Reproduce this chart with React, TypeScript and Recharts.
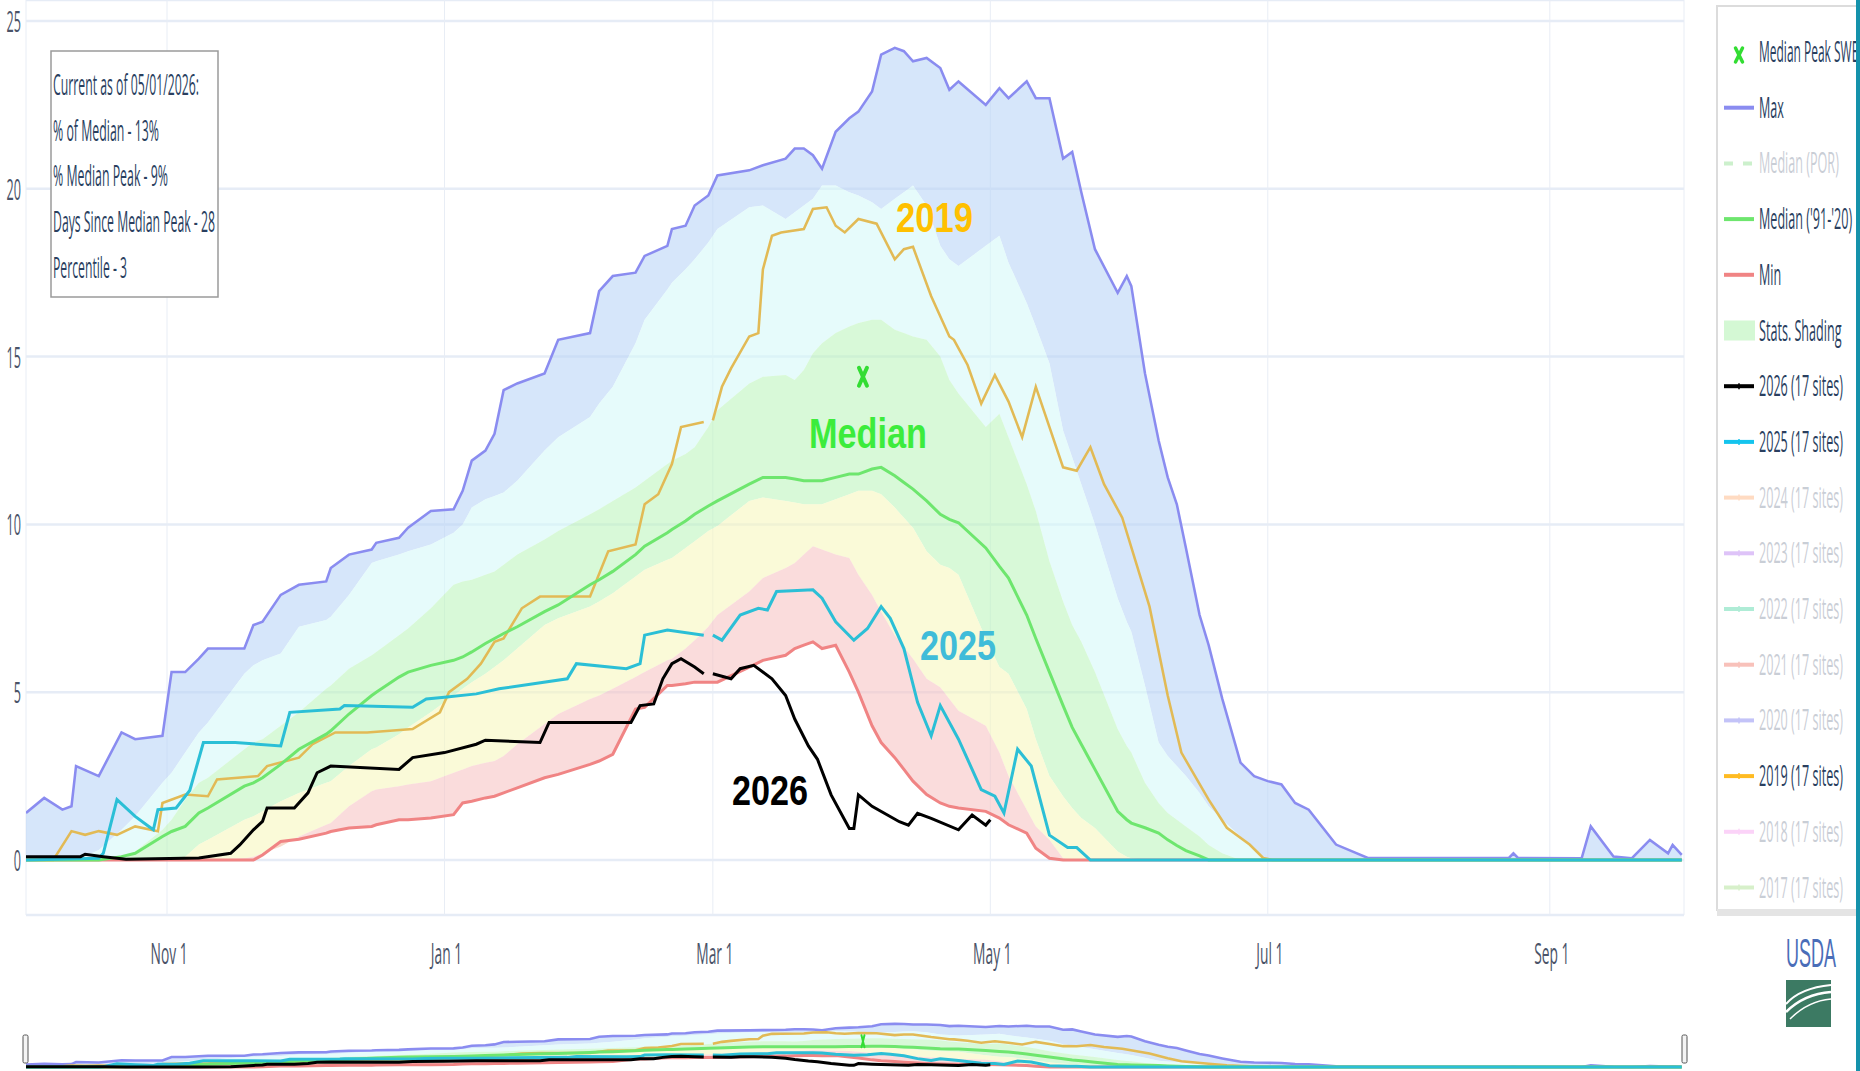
import React from "react";
import { ComposedChart, Area, Line, Scatter, XAxis, YAxis, CartesianGrid } from "recharts";

// day of water year (0 = Oct 1)
const DAYS = [
  0, 4, 8, 10, 11, 16, 21, 24, 30, 32, 35, 38, 40, 48, 50, 52, 56, 60, 66, 67,
  71, 76, 77, 82, 84, 89, 94, 96, 98, 101, 103, 105, 108, 114, 117, 124, 126, 129, 134, 136,
  141, 142, 145, 147, 150, 152, 159, 162, 167, 169, 171, 173, 175, 178, 181, 183, 186, 188, 191, 193,
  195, 198, 201, 203, 205, 211, 214, 216, 220, 222, 225, 228, 230, 232, 235, 240, 242, 243, 246, 249,
  251, 253, 255, 258, 260, 263, 267, 270, 273, 276, 279, 282, 288, 295, 326, 327, 328, 342, 344, 349,
  353, 357, 361, 362, 364,
];
const MAX = [
  1.4, 1.85, 1.5, 1.6, 2.8, 2.5, 3.8, 3.6, 3.7, 5.6, 5.6, 6.0, 6.3, 6.3, 7.0, 7.1, 7.9, 8.2, 8.3, 8.7,
  9.1, 9.25, 9.45, 9.6, 9.9, 10.4, 10.45, 11.0, 11.9, 12.2, 12.7, 14.0, 14.2, 14.5, 15.5, 15.7, 16.95, 17.4, 17.5, 18.0,
  18.3, 18.8, 18.9, 19.5, 19.8, 20.4, 20.55, 20.7, 20.9, 21.2, 21.2, 21.0, 20.6, 21.7, 22.1, 22.3, 22.9, 24.0, 24.2, 24.1,
  23.8, 23.9, 23.6, 22.95, 23.2, 22.5, 23.0, 22.7, 23.2, 22.7, 22.7, 20.9, 21.1, 19.9, 18.2, 16.9, 17.4, 17.1, 14.5, 12.5,
  11.4, 10.6, 9.3, 7.3, 6.4, 4.8, 2.9, 2.5, 2.35, 2.25, 1.7, 1.5, 0.46, 0.06, 0.06, 0.2, 0.06, 0.05, 1.0, 0.1,
  0.05, 0.6, 0.2, 0.45, 0.15,
];
const P90 = [
  0, 0, 0, 0, 0, 0.3, 0.9, 1.3, 2.3, 2.6, 3.2, 3.8, 4.1, 5.55, 5.8, 5.95, 6.15, 6.95, 7.15, 7.25,
  7.9, 8.85, 8.9, 9.1, 9.2, 9.4, 9.75, 10.0, 10.5, 10.75, 10.85, 10.95, 11.3, 12.2, 12.6, 13.2, 13.6, 14.1, 15.4, 16.1,
  17.0, 17.2, 17.6, 17.9, 18.4, 18.8, 19.45, 19.5, 19.1, 19.3, 19.5, 19.7, 20.1, 20.1, 19.9, 19.8, 19.6, 19.4, 19.7, 19.9,
  20.1, 19.5, 18.3, 17.9, 17.7, 18.3, 18.6, 17.8, 16.6, 15.9, 14.8, 12.8, 12.0, 11.2, 10.0, 7.8, 7.1, 6.8, 5.2, 3.5,
  3.1, 2.8, 2.5, 2.0, 1.6, 1.2, 0.7, 0.35, 0, 0, 0, 0, 0, 0, 0, 0, 0, 0, 0, 0,
  0, 0, 0, 0, 0,
];
const P70 = [
  0, 0, 0, 0, 0, 0, 0, 0.25, 0.9, 1.2, 1.8, 2.3, 2.45, 3.3, 3.5, 3.6, 4.0, 4.4, 5.1, 5.2,
  5.7, 6.1, 6.2, 6.7, 6.9, 7.5, 8.2, 8.3, 8.35, 8.5, 8.6, 8.8, 9.1, 9.55, 9.8, 10.3, 10.45, 10.7, 11.1, 11.3,
  11.8, 11.9, 12.1, 12.3, 12.9, 13.4, 14.2, 14.4, 14.45, 14.3, 14.6, 15.1, 15.4, 15.7, 15.9, 16.0, 16.1, 16.1, 15.8, 15.7,
  15.6, 15.5, 15.0, 14.3, 13.9, 12.9, 13.3, 12.6, 11.2, 10.4, 8.9, 7.7, 7.0, 6.5, 5.6, 3.9, 3.4, 3.2, 2.3, 1.7,
  1.4, 1.2, 1.0, 0.7, 0.45, 0.2, 0, 0, 0, 0, 0, 0, 0, 0, 0, 0, 0, 0, 0, 0,
  0, 0, 0, 0, 0,
];
const MEDIAN = [
  0, 0, 0, 0, 0, 0, 0.1, 0.2, 0.7, 0.85, 1.0, 1.4, 1.55, 2.2, 2.3, 2.45, 2.85, 3.3, 3.75, 3.85,
  4.35, 4.9, 5.0, 5.45, 5.6, 5.8, 5.95, 6.05, 6.2, 6.45, 6.6, 6.75, 6.95, 7.4, 7.6, 8.2, 8.35, 8.6, 9.1, 9.35,
  9.75, 9.85, 10.1, 10.3, 10.55, 10.7, 11.2, 11.4, 11.4, 11.35, 11.3, 11.3, 11.3, 11.4, 11.5, 11.5, 11.65, 11.7, 11.45, 11.25,
  11.05, 10.7, 10.3, 10.15, 10.05, 9.3, 8.75, 8.4, 7.3, 6.6, 5.6, 4.6, 3.95, 3.45, 2.7, 1.45, 1.2, 1.1, 0.96, 0.8,
  0.6, 0.43, 0.28, 0.12, 0, 0, 0, 0, 0, 0, 0, 0, 0, 0, 0, 0, 0, 0, 0, 0,
  0, 0, 0, 0, 0,
];
const P30 = [
  0, 0, 0, 0, 0, 0, 0, 0, 0, 0, 0.1, 0.46, 0.6, 1.2, 1.3, 1.45, 1.75, 2.0, 2.3, 2.35,
  2.8, 3.3, 3.35, 3.75, 3.95, 4.4, 4.9, 5.1, 5.3, 5.55, 5.75, 5.95, 6.3, 7.0, 7.2, 7.55, 7.7, 7.95, 8.45, 8.65,
  8.95, 9.0, 9.3, 9.5, 9.8, 9.95, 10.7, 10.8, 10.7, 10.65, 10.6, 10.6, 10.6, 10.75, 10.9, 11.0, 11.0, 10.9, 10.5, 10.2,
  9.9, 9.2, 8.8, 8.7, 8.5, 6.6, 5.75, 5.55, 4.5, 3.6, 2.5, 1.9, 1.55, 1.25, 0.95, 0.25, 0.1, 0.05, 0, 0,
  0, 0, 0, 0, 0, 0, 0, 0, 0, 0, 0, 0, 0, 0, 0, 0, 0, 0, 0, 0,
  0, 0, 0, 0, 0,
];
const P10 = [
  0, 0, 0, 0, 0, 0, 0, 0, 0, 0, 0, 0, 0, 0.05, 0.1, 0.2, 0.4, 0.7, 1.05, 1.1,
  1.6, 2.05, 2.1, 2.2, 2.25, 2.35, 2.6, 2.7, 2.8, 2.9, 2.95, 3.1, 3.45, 4.05, 4.35, 4.8, 4.9, 5.1, 5.45, 5.6,
  5.95, 6.0, 6.3, 6.55, 6.95, 7.3, 8.0, 8.4, 8.7, 8.85, 9.1, 9.35, 9.25, 9.1, 9.0, 8.5, 7.9, 7.4, 6.7, 6.35,
  6.0, 5.4, 5.15, 4.8, 4.45, 4.0, 3.2, 2.5, 1.5, 1.0, 0.6, 0.05, 0, 0, 0, 0, 0, 0, 0, 0,
  0, 0, 0, 0, 0, 0, 0, 0, 0, 0, 0, 0, 0, 0, 0, 0, 0, 0, 0, 0,
  0, 0, 0, 0, 0,
];
const MIN = [
  0, 0, 0, 0, 0, 0, 0, 0, 0, 0, 0, 0, 0, 0, 0, 0.15, 0.55, 0.62, 0.8, 0.85,
  0.95, 1.0, 1.05, 1.2, 1.2, 1.25, 1.35, 1.7, 1.75, 1.85, 1.9, 2.0, 2.15, 2.45, 2.55, 2.85, 2.95, 3.15, 4.5, 4.55,
  5.2, 5.2, 5.25, 5.3, 5.3, 5.3, 5.75, 5.95, 6.1, 6.3, 6.4, 6.5, 6.3, 6.4, 5.6, 5.0, 4.0, 3.5, 3.05, 2.7,
  2.35, 1.95, 1.7, 1.6, 1.55, 1.45, 1.25, 1.05, 0.8, 0.35, 0.05, 0, 0, 0, 0, 0, 0, 0, 0, 0,
  0, 0, 0, 0, 0, 0, 0, 0, 0, 0, 0, 0, 0, 0, 0, 0, 0, 0, 0, 0,
  0, 0, 0, 0, 0,
];

const DAYS_2026 = [
  0, 12, 13, 17, 22, 38, 45, 47, 50, 52, 53, 59, 62, 64, 67, 82, 85, 92, 99, 101,
  113, 115, 133, 135, 138, 140, 142, 144, 147, 149, 150, 151, 155, 157, 160, 164, 167, 169, 172, 174,
  177, 181, 182, 183, 186, 192, 194, 196, 199, 205, 208, 211, 212,
];
const SWE_2026 = [
  0.1, 0.1, 0.17, 0.1, 0.02, 0.06, 0.2, 0.45, 0.9, 1.15, 1.55, 1.55, 2.0, 2.6, 2.8, 2.7, 3.05, 3.2, 3.45, 3.57,
  3.5, 4.1, 4.1, 4.6, 4.65, 5.4, 5.85, 6.0, 5.75, 5.55, null, 5.55, 5.4, 5.7, 5.8, 5.4, 4.9, 4.2, 3.4, 3.0,
  1.94, 0.94, 0.94, 1.94, 1.6, 1.14, 1.04, 1.39, 1.24, 0.9, 1.34, 1.04, 1.2,
];
const DAYS_2025 = [
  0, 16, 17, 20, 24, 27, 28, 29, 33, 36, 39, 46, 56, 58, 69, 70, 85, 88, 92, 99,
  104, 119, 121, 132, 135, 136, 141, 149, 150, 151, 153, 157, 161, 163, 165, 173, 175, 178, 182, 185,
  188, 190, 193, 196, 199, 201, 205, 210, 213, 215, 218, 221, 225, 229, 231, 234, 364,
];
const SWE_2025 = [
  0, 0.05, 0.2, 1.8, 1.3, 1.0, 0.9, 1.5, 1.55, 2.07, 3.5, 3.5, 3.4, 4.4, 4.5, 4.6, 4.55, 4.8, 4.85, 4.95,
  5.1, 5.4, 5.85, 5.7, 5.85, 6.7, 6.85, 6.7, null, 6.7, 6.55, 7.3, 7.5, 7.45, 8.0, 8.05, 7.8, 7.1, 6.55, 6.9,
  7.55, 7.2, 6.3, 4.7, 3.7, 4.6, 3.6, 2.1, 1.9, 1.4, 3.3, 2.8, 0.74, 0.37, 0.37, 0, 0,
];
const DAYS_2019 = [
  0, 6, 10, 13, 16, 20, 24, 29, 30, 35, 40, 42, 51, 53, 60, 63, 68, 75, 85, 91,
  93, 97, 100, 103, 105, 109, 113, 124, 128, 134, 136, 139, 142, 144, 149, 150, 151, 153, 155, 159,
  161, 162, 164, 166, 171, 173, 176, 178, 180, 183, 187, 191, 193, 195, 199, 203, 204, 207, 210, 213,
  216, 219, 222, 225, 228, 231, 234, 237, 241, 247, 251, 254, 260, 264, 269, 272, 274, 364,
];
const SWE_2019 = [
  0, 0, 0.86, 0.75, 0.86, 0.75, 1.0, 0.86, 1.7, 1.95, 1.9, 2.4, 2.5, 2.8, 3.05, 3.45, 3.8, 3.8, 3.9, 4.4,
  5.0, 5.4, 5.85, 6.5, 6.6, 7.5, 7.85, 7.85, 9.2, 9.4, 10.6, 10.9, 11.8, 12.9, 13.05, null, 13.1, 14.1, 14.65, 15.6,
  15.7, 17.6, 18.6, 18.7, 18.8, 19.4, 19.45, 18.9, 18.7, 19.1, 18.96, 17.9, 18.2, 18.27, 16.8, 15.6, 15.5, 14.75, 13.6, 14.45,
  13.66, 12.6, 14.1, 12.9, 11.7, 11.6, 12.3, 11.2, 10.2, 7.55, 4.9, 3.2, 1.8, 0.96, 0.46, 0.06, 0, 0,
];
const PEAK_DAY = [184];
const PEAK_SWE = [14.4];

const X_TICKS = [31, 92, 151, 212, 273, 335];
const X_LABELS = ["Nov 1", "Jan 1", "Mar 1", "May 1", "Jul 1", "Sep 1"];
const Y_TICKS = [0, 5, 10, 15, 20, 25];

const INFO_LINES = [
  "Current as of 05/01/2026:",
  "% of Median - 13%",
  "% Median Peak - 9%",
  "Days Since Median Peak - 28",
  "Percentile - 3",
];
const INFO_WIDTHS = [146, 106, 115, 162, 74];

const LEGEND = [
  { label: "Median Peak SWE", kind: "x", color: "#33dd33", on: true },
  { label: "Max", kind: "line", color: "#8a8cf0", on: true },
  { label: "Median (POR)", kind: "dash", color: "#8fe08f", on: false },
  { label: "Median ('91-'20)", kind: "line", color: "#6ee66e", on: true },
  { label: "Min", kind: "line", color: "#f08484", on: true },
  { label: "Stats. Shading", kind: "box", color: "#d4f8d4", on: true },
  { label: "2026 (17 sites)", kind: "year", color: "#000000", on: true },
  { label: "2025 (17 sites)", kind: "year", color: "#14c4ee", on: true },
  { label: "2024 (17 sites)", kind: "year", color: "#ffb07a", on: false },
  { label: "2023 (17 sites)", kind: "year", color: "#b77cf0", on: false },
  { label: "2022 (17 sites)", kind: "year", color: "#4fd6a6", on: false },
  { label: "2021 (17 sites)", kind: "year", color: "#f07868", on: false },
  { label: "2020 (17 sites)", kind: "year", color: "#7c7cf0", on: false },
  { label: "2019 (17 sites)", kind: "year", color: "#ffbb22", on: true },
  { label: "2018 (17 sites)", kind: "year", color: "#f8a0f0", on: false },
  { label: "2017 (17 sites)", kind: "year", color: "#a8e08c", on: false },
];

const statsRows = DAYS.map((day, i) => ({
  day,
  max: MAX[i],
  min: MIN[i],
  median: MEDIAN[i],
  blue: [P90[i], MAX[i]],
  cyan: [P70[i], P90[i]],
  green: [P30[i], P70[i]],
  yellow: [P10[i], P30[i]],
  pink: [MIN[i], P10[i]],
}));
const toSeries = (days: number[], vals: (number | null)[]) => days.map((day, i) => ({ day, v: vals[i] }));
const data2026 = toSeries(DAYS_2026, SWE_2026);
const data2025 = toSeries(DAYS_2025, SWE_2025);
const data2019 = toSeries(DAYS_2019, SWE_2019);
const peakData = toSeries(PEAK_DAY, PEAK_SWE);

const FONT = "'Open Sans', 'DejaVu Sans', sans-serif";
const BOLD = "'Liberation Sans', Arial, sans-serif";

const XTick = (props: any) => {
  const { x, y, payload } = props;
  return (
    <text transform={`translate(${x + 2},${y + 41}) scale(0.46,1)`} textAnchor="middle" fontSize={30} fontFamily={FONT} fill="#4a5368">
      {X_LABELS[X_TICKS.indexOf(payload.value)]}
    </text>
  );
};

const YTick = (props: any) => {
  const { x, y, payload } = props;
  return (
    <text transform={`translate(${x},${y + 11}) scale(0.42,1)`} textAnchor="end" fontSize={30} fontFamily={FONT} fill="#4a5368">
      {payload.value}
    </text>
  );
};

const PeakMark = (props: any) => {
  const { cx, cy, hw = 4, hh = 9, sw = 4 } = props;
  return (
    <g stroke="#33dd33" strokeWidth={sw} strokeLinecap="round">
      <line x1={cx - hw} y1={cy - hh} x2={cx + hw} y2={cy + hh} />
      <line x1={cx + hw} y1={cy - hh} x2={cx - hw} y2={cy + hh} />
    </g>
  );
};

const SHADES = [
  { key: "blue", fill: "#bbd5f7" },
  { key: "cyan", fill: "#d5f8f8" },
  { key: "green", fill: "#bef5be" },
  { key: "yellow", fill: "#f7f7be" },
  { key: "pink", fill: "#f7c5c5" },
];

function renderSeries(w: number) {
  return [
    ...SHADES.map((s) => (
      <Area key={s.key} type="linear" dataKey={s.key} stroke="none" fill={s.fill} fillOpacity={0.6} isAnimationActive={false} activeDot={false} />
    )),
    <Line key="max" type="linear" dataKey="max" stroke="#8a8cf0" strokeWidth={w * 0.85} dot={false} activeDot={false} isAnimationActive={false} />,
    <Line key="min" type="linear" dataKey="min" stroke="#f08484" strokeWidth={w} dot={false} activeDot={false} isAnimationActive={false} />,
    <Line key="y2019" type="linear" data={data2019} dataKey="v" stroke="#e2ba55" strokeWidth={w * 0.85} dot={false} activeDot={false} isAnimationActive={false} />,
    <Line key="median" type="linear" dataKey="median" stroke="#6ee66e" strokeWidth={w} dot={false} activeDot={false} isAnimationActive={false} />,
    <Line key="y2025" type="linear" data={data2025} dataKey="v" stroke="#2bbfd6" strokeWidth={w} dot={false} activeDot={false} isAnimationActive={false} />,
    <Line key="y2026" type="linear" data={data2026} dataKey="v" stroke="#000000" strokeWidth={w} dot={false} activeDot={false} isAnimationActive={false} />,
  ];
}

export default function App() {
  return (
    <div style={{ position: "absolute", left: 0, top: 0, width: 1860, height: 1071, overflow: "hidden", background: "#fff" }}>
      <div style={{ position: "absolute", left: 0, top: 0 }}>
        <ComposedChart width={1700} height={1000} data={statsRows} margin={{ top: 0, right: 16, bottom: 0, left: 0 }}>
          <CartesianGrid vertical={false} stroke="#e6ecf6" strokeWidth={2.5} />
          <CartesianGrid horizontal={false} stroke="#e8edf5" strokeWidth={1} />
          <XAxis
            dataKey="day"
            type="number"
            domain={[0, 364.5]}
            ticks={X_TICKS}
            allowDataOverflow
            height={85}
            tickLine={false}
            axisLine={false}
            tick={<XTick />}
            interval={0}
          />
          <YAxis
            type="number"
            domain={[-1.639, 25.626]}
            ticks={Y_TICKS}
            allowDataOverflow
            width={26}
            tickLine={false}
            axisLine={false}
            tickSize={0}
            tickMargin={5}
            tick={<YTick />}
            interval={0}
          />
          {renderSeries(3)}
          <Scatter data={peakData} dataKey="v" isAnimationActive={false} shape={<PeakMark />} />
        </ComposedChart>
      </div>

      <div style={{ position: "absolute", left: 26, top: 1018 }}>
        <ComposedChart width={1658} height={53} data={statsRows} margin={{ top: 0, right: 0, bottom: 0, left: 0 }}>
          <XAxis dataKey="day" type="number" domain={[0, 364.5]} hide allowDataOverflow />
          <YAxis type="number" domain={[-2.25, 27.5]} hide allowDataOverflow />
          {renderSeries(3)}
          <Scatter data={peakData} dataKey="v" isAnimationActive={false} shape={<PeakMark hw={1.5} hh={6} sw={2} />} />
        </ComposedChart>
      </div>

      <svg width={1860} height={1071} style={{ position: "absolute", left: 0, top: 0, pointerEvents: "none" }}>
        {/* annotations */}
        <g fontFamily={BOLD} fontWeight="bold" fontSize={42}>
          <text x={896} y={232} textLength={77} lengthAdjust="spacingAndGlyphs" fill="#ffc000">2019</text>
          <text x={809} y={448} textLength={118} lengthAdjust="spacingAndGlyphs" fill="#3cec3c">Median</text>
          <text x={920} y={660} textLength={76} lengthAdjust="spacingAndGlyphs" fill="#3fbcd9">2025</text>
          <text x={732} y={805} textLength={76} lengthAdjust="spacingAndGlyphs" fill="#000">2026</text>
        </g>

        {/* info box */}
        <rect x={51} y={51} width={167} height={246} fill="#fff" stroke="#9a9a9a" strokeWidth={1.5} />
        {INFO_LINES.map((t, i) => (
          <text key={t} x={53} y={95 + i * 45.7} fontSize={30} fontFamily={FONT} fill="#2a3f5f" textLength={INFO_WIDTHS[i]} lengthAdjust="spacingAndGlyphs">
            {t}
          </text>
        ))}

        {/* legend */}
        <rect x={1717} y={6} width={160} height={904} fill="#fff" stroke="#dcdcdc" strokeWidth={2} />
        <rect x={1717} y={909} width={160} height={7} fill="#e4e4e4" />
        {LEGEND.map((it, i) => {
          const cy = 52 + i * 55.7;
          return (
            <g key={it.label} opacity={it.on ? 1 : 0.45}>
              {it.kind === "x" && <PeakMark cx={1739} cy={cy + 3} hw={3.5} hh={7} sw={3.5} />}
              {(it.kind === "line" || it.kind === "year") && (
                <line x1={1724} x2={1754} y1={cy} y2={cy} stroke={it.color} strokeWidth={4} />
              )}
              {it.kind === "year" && <line x1={1739} x2={1739} y1={cy - 3} y2={cy + 3} stroke={it.color} strokeWidth={1.5} />}
              {it.kind === "dash" && (
                <line x1={1724} x2={1754} y1={cy} y2={cy} stroke={it.color} strokeWidth={4} strokeDasharray="9 10" />
              )}
              {it.kind === "box" && <rect x={1724} y={cy - 10} width={31} height={20} fill={it.color} />}
              <text
                transform={`translate(1759,${cy + 10}) scale(${i === 0 ? 0.4 : 0.42},1)`}
                fontSize={30}
                fontFamily={FONT}
                fill={it.on ? "#2a3f5f" : "#8a93a6"}
              >
                {it.label}
              </text>
            </g>
          );
        })}
        <rect x={1856} y={0} width={4} height={1071} fill="#1592ab" />

        {/* USDA logo */}
        <text transform="translate(1786,967) scale(0.45,1)" fontSize={40} fontFamily={BOLD} fill="#4a6db8">USDA</text>
        <rect x={1786} y={980} width={45} height={47} fill="#3c7a63" />
        <path d="M1786 1004 Q1800 988 1831 985" stroke="#fff" strokeWidth={2} fill="none" />
        <path d="M1786 1012 Q1804 994 1831 992" stroke="#fff" strokeWidth={2.5} fill="none" />
        <path d="M1790 1019 Q1808 1001 1831 999" stroke="#fff" strokeWidth={1.5} fill="none" />

        {/* range slider handles */}
        <rect x={23} y={1035} width={5} height={28} rx={1.5} fill="#f4f4f4" stroke="#555" strokeWidth={1} />
        <rect x={1682} y={1035} width={5} height={28} rx={1.5} fill="#f4f4f4" stroke="#555" strokeWidth={1} />
      </svg>
    </div>
  );
}
